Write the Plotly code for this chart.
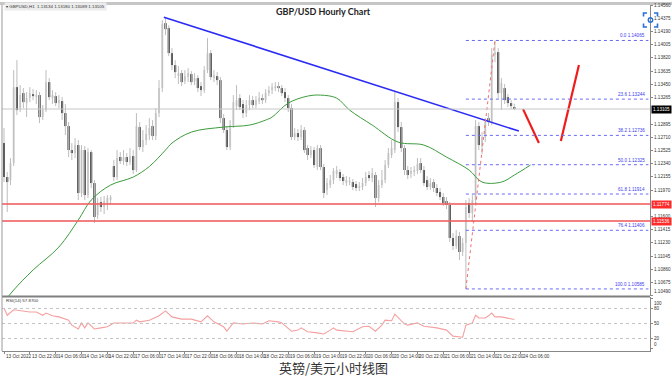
import plotly.graph_objects as go

# ---------------- data ----------------
time_labels = ["13 Oct 2022", "13 Oct 22:00", "14 Oct 06:00", "14 Oct 14:00", "14 Oct 22:00",
               "17 Oct 06:00", "17 Oct 14:00", "17 Oct 22:00", "18 Oct 06:00", "18 Oct 14:00",
               "18 Oct 22:00", "19 Oct 06:00", "19 Oct 14:00", "19 Oct 22:00", "20 Oct 06:00",
               "20 Oct 14:00", "20 Oct 22:00", "21 Oct 06:00", "21 Oct 14:00", "21 Oct 22:00",
               "24 Oct 06:00"]
time_label_bars = [0, 8, 16, 24, 32, 40, 48, 56, 64, 72, 80, 88, 96, 104, 112, 120, 128, 136, 144, 152, 160]

open_ = [1.12628, 1.12152, 1.12110, 1.12348, 1.13412, 1.13118, 1.13328, 1.13188, 1.13258, 1.13314,
         1.13272, 1.13300, 1.12992, 1.13090, 1.13482, 1.13258, 1.13286, 1.13188, 1.13216, 1.13048,
         1.12866, 1.12530, 1.12488, 1.12600, 1.11928, 1.12530, 1.11900, 1.12502, 1.12068, 1.11620,
         1.11802, 1.11732, 1.11788, 1.11830, 1.12306, 1.12152, 1.12432, 1.12376, 1.12432, 1.12362,
         1.12446, 1.12250, 1.12852, 1.12572, 1.12670, 1.12740, 1.12866, 1.12726, 1.13048, 1.13398,
         1.14308, 1.14238, 1.13888, 1.13720, 1.13566, 1.13608, 1.13496, 1.13552, 1.13594, 1.13496,
         1.13538, 1.13426, 1.13370, 1.13650, 1.13888, 1.13538, 1.13566, 1.13510, 1.12978, 1.12810,
         1.12572, 1.12880, 1.13146, 1.13258, 1.13174, 1.13048, 1.13160, 1.13230, 1.13160, 1.13216,
         1.13258, 1.13230, 1.13328, 1.13370, 1.13398, 1.13426, 1.13398, 1.13342, 1.13258, 1.13118,
         1.12712, 1.12768, 1.12712, 1.12810, 1.12558, 1.12460, 1.12530, 1.12292, 1.12558, 1.12292,
         1.11970, 1.12040, 1.12110, 1.12194, 1.12222, 1.12152, 1.12068, 1.12082, 1.12082, 1.12054,
         1.11998, 1.12012, 1.12068, 1.12180, 1.12138, 1.12180, 1.11858, 1.12040, 1.12110, 1.12320,
         1.12460, 1.12530, 1.13202, 1.12852, 1.12558, 1.12250, 1.12194, 1.12222, 1.12236, 1.12348,
         1.12250, 1.12110, 1.12012, 1.12082, 1.11998, 1.11942, 1.11872, 1.11816, 1.11760, 1.11298,
         1.11186, 1.11326, 1.11102, 1.11228, 1.11788, 1.11648, 1.11830, 1.12866, 1.12586, 1.12712,
         1.12978, 1.12922, 1.13860, 1.13902, 1.13328, 1.13398, 1.13272, 1.13188, 1.13134]
high = [1.12838, 1.12222, 1.12418, 1.13650, 1.13790, 1.13440, 1.13398, 1.13342, 1.13412, 1.13384,
        1.13370, 1.13342, 1.13160, 1.13650, 1.13538, 1.13370, 1.13342, 1.13300, 1.13272, 1.13174,
        1.12922, 1.12628, 1.12698, 1.12670, 1.12600, 1.12586, 1.12558, 1.12530, 1.12110, 1.11858,
        1.11872, 1.11886, 1.11900, 1.11900, 1.12390, 1.12530, 1.12502, 1.12530, 1.12488, 1.12558,
        1.12530, 1.13048, 1.12922, 1.12810, 1.12880, 1.12978, 1.12950, 1.13118, 1.13510, 1.14350,
        1.14378, 1.14280, 1.13958, 1.13790, 1.13706, 1.13650, 1.13650, 1.13678, 1.13636, 1.13608,
        1.13580, 1.13482, 1.13706, 1.14098, 1.13930, 1.13650, 1.13622, 1.13552, 1.13034, 1.12866,
        1.12950, 1.13300, 1.13440, 1.13314, 1.13230, 1.13230, 1.13300, 1.13286, 1.13286, 1.13342,
        1.13314, 1.13384, 1.13426, 1.13468, 1.13482, 1.13482, 1.13440, 1.13398, 1.13300, 1.13174,
        1.12838, 1.12824, 1.12880, 1.12852, 1.12600, 1.12586, 1.12572, 1.12600, 1.12600, 1.12334,
        1.12138, 1.12180, 1.12278, 1.12306, 1.12264, 1.12194, 1.12166, 1.12152, 1.12124, 1.12096,
        1.12082, 1.12138, 1.12222, 1.12236, 1.12278, 1.12222, 1.12110, 1.12250, 1.12390, 1.12558,
        1.12670, 1.13342, 1.13258, 1.12922, 1.12600, 1.12306, 1.12292, 1.12306, 1.12418, 1.12418,
        1.12306, 1.12166, 1.12138, 1.12124, 1.12054, 1.11998, 1.11928, 1.11872, 1.11802, 1.11368,
        1.11410, 1.11382, 1.11298, 1.11830, 1.11858, 1.11900, 1.12950, 1.12922, 1.12782, 1.12978,
        1.13048, 1.13958, 1.14065, 1.13958, 1.13538, 1.13454, 1.13314, 1.13230, 1.13180]
low = [1.12082, 1.11662, 1.12040, 1.12306, 1.13020, 1.13062, 1.13118, 1.12992, 1.13202, 1.13230,
       1.13174, 1.12908, 1.12950, 1.13062, 1.13230, 1.13174, 1.13146, 1.13118, 1.12950, 1.12740,
       1.12432, 1.12390, 1.12418, 1.11830, 1.11872, 1.11830, 1.11858, 1.11998, 1.11508, 1.11564,
       1.11662, 1.11634, 1.11690, 1.11774, 1.12096, 1.12110, 1.12334, 1.12320, 1.12306, 1.12320,
       1.12194, 1.12222, 1.12530, 1.12502, 1.12600, 1.12670, 1.12670, 1.12670, 1.12992, 1.13342,
       1.14140, 1.13846, 1.13650, 1.13538, 1.13454, 1.13426, 1.13454, 1.13482, 1.13440, 1.13440,
       1.13342, 1.13286, 1.13328, 1.13608, 1.13510, 1.13482, 1.13440, 1.12908, 1.12768, 1.12530,
       1.12530, 1.12838, 1.13090, 1.13090, 1.12978, 1.12992, 1.13090, 1.13118, 1.13118, 1.13174,
       1.13174, 1.13188, 1.13286, 1.13314, 1.13356, 1.13342, 1.13286, 1.13202, 1.13062, 1.12670,
       1.12670, 1.12656, 1.12670, 1.12488, 1.12390, 1.12418, 1.12278, 1.12250, 1.12250, 1.11858,
       1.11900, 1.11998, 1.12054, 1.12138, 1.12096, 1.12040, 1.12026, 1.12040, 1.11970, 1.11956,
       1.11956, 1.11970, 1.12026, 1.12096, 1.12082, 1.11732, 1.11802, 1.11998, 1.12068, 1.12278,
       1.12418, 1.12488, 1.12782, 1.12502, 1.12180, 1.12124, 1.12138, 1.12166, 1.12194, 1.12208,
       1.12026, 1.11970, 1.11970, 1.11942, 1.11886, 1.11830, 1.11746, 1.11704, 1.11242, 1.11130,
       1.11144, 1.10990, 1.11046, 1.10585, 1.11578, 1.11522, 1.11774, 1.12530, 1.12474, 1.12642,
       1.12866, 1.12880, 1.13762, 1.13258, 1.13090, 1.13174, 1.13132, 1.13104, 1.13089]
close = [1.12152, 1.12082, 1.12348, 1.13412, 1.13090, 1.13300, 1.13202, 1.13258, 1.13328, 1.13286,
         1.13300, 1.12992, 1.13090, 1.13482, 1.13272, 1.13300, 1.13188, 1.13230, 1.13048, 1.12866,
         1.12530, 1.12488, 1.12600, 1.11928, 1.12530, 1.11900, 1.12502, 1.12068, 1.11592, 1.11788,
         1.11732, 1.11816, 1.11858, 1.11872, 1.12152, 1.12418, 1.12376, 1.12432, 1.12362, 1.12446,
         1.12250, 1.12866, 1.12572, 1.12670, 1.12754, 1.12838, 1.12726, 1.13048, 1.13398, 1.14294,
         1.14224, 1.13888, 1.13720, 1.13622, 1.13608, 1.13482, 1.13566, 1.13608, 1.13482, 1.13538,
         1.13398, 1.13370, 1.13650, 1.13888, 1.13552, 1.13580, 1.13510, 1.12978, 1.12810, 1.12572,
         1.12880, 1.13202, 1.13230, 1.13132, 1.13048, 1.13160, 1.13230, 1.13160, 1.13230, 1.13258,
         1.13230, 1.13328, 1.13370, 1.13412, 1.13426, 1.13398, 1.13328, 1.13258, 1.13118, 1.12712,
         1.12768, 1.12712, 1.12810, 1.12530, 1.12460, 1.12530, 1.12320, 1.12558, 1.12292, 1.11928,
         1.12068, 1.12110, 1.12236, 1.12250, 1.12138, 1.12096, 1.12110, 1.12096, 1.12012, 1.11998,
         1.12026, 1.12068, 1.12152, 1.12138, 1.12208, 1.11858, 1.12040, 1.12110, 1.12320, 1.12488,
         1.12558, 1.13202, 1.12852, 1.12558, 1.12250, 1.12180, 1.12236, 1.12250, 1.12334, 1.12250,
         1.12068, 1.12012, 1.12068, 1.11998, 1.11928, 1.11872, 1.11788, 1.11760, 1.11298, 1.11186,
         1.11326, 1.11102, 1.11228, 1.11732, 1.11648, 1.11830, 1.12866, 1.12600, 1.12712, 1.12922,
         1.12922, 1.13860, 1.13902, 1.13328, 1.13468, 1.13230, 1.13188, 1.13146, 1.13105]

ma_bars = [0, 3, 9, 17, 23, 27, 33, 40, 45, 50, 52, 58, 68, 76, 81, 83, 88, 94, 98, 103,
           107, 114, 122, 130, 137, 144, 148, 154, 158, 163]
ma_values = [1.10400, 1.10570, 1.10850, 1.11172, 1.11550, 1.11830, 1.12040, 1.12152, 1.12300, 1.12530,
             1.12628, 1.12782, 1.12852, 1.12880, 1.12950, 1.12992, 1.13188, 1.13286, 1.13300, 1.13258,
             1.13090, 1.12880, 1.12642, 1.12600, 1.12432, 1.12250, 1.12082, 1.12082, 1.12180, 1.12320]

rsi_bars = [0, 1, 3, 5, 8, 10, 12, 13, 15, 17, 20, 21, 23, 24, 25, 26, 28, 30, 32, 34,
            37, 40, 41, 42, 45, 48, 50, 52, 55, 58, 61, 63, 65, 68, 69, 71, 74, 77, 80, 82,
            85, 86, 89, 91, 92, 94, 97, 99, 101, 102, 103, 106, 108, 111, 113, 115, 117, 118, 120, 121,
            124, 125, 128, 130, 132, 134, 137, 139, 142, 143, 145, 146, 147, 149, 150, 151, 152, 154, 158]
rsi_values = [80.8, 66.5, 77.5, 75.3, 73.1, 73.1, 66.5, 70.9, 65.4, 63.2,
              56.6, 46.7, 39.0, 51.1, 41.2, 51.1, 39.0, 41.2, 43.4, 51.1,
              51.1, 51.1, 56.6, 53.3, 56.6, 65.4, 75.3, 63.2, 58.8, 58.8,
              53.3, 65.4, 53.3, 43.4, 34.6, 51.1, 48.9, 51.1, 48.9, 55.5,
              53.3, 51.1, 34.6, 36.8, 41.2, 33.5, 31.3, 29.1, 36.8, 41.2,
              36.8, 34.6, 33.5, 43.4, 44.5, 34.6, 46.7, 56.6, 55.5, 68.7,
              48.9, 46.7, 51.1, 44.5, 43.4, 41.2, 36.8, 24.7, 22.5, 46.7,
              51.1, 66.5, 61.0, 61.0, 65.4, 70.9, 63.2, 63.2, 57.87]
rsi_levels = [80, 50, 20]
rsi_ticks = [100, 80, 50, 20, 0]

trend_bars = [49.5, 159.4]
trend_prices = [1.14392, 1.12796]

arrow1_bars = [160.7, 165.6]
arrow1_prices = [1.13104, 1.12628]
arrow2_bars = [172.4, 178.0]
arrow2_prices = [1.12656, 1.13720]

support_levels = [1.11774, 1.11536]
current_price = 1.13105

fib_low, fib_high = 1.10585, 1.14065
fib_low_bar, fib_high_bar = 143, 152
fib_ratios = [0.0, 23.6, 38.2, 50.0, 61.8, 76.4, 100.0]

price_ticks = [1.14560, 1.14375, 1.14190, 1.14005, 1.13820, 1.13635, 1.13450, 1.13265,
               1.12895, 1.12710, 1.12525, 1.12340, 1.12155, 1.11970, 1.11600, 1.11415,
               1.11230, 1.11045, 1.10860, 1.10675, 1.10490]

# ---------------- geometry ----------------
W, H = 672, 378
ML, MR, MT, MB = 2, 22, 5, 27
PW, PH = W - ML - MR, H - MT - MB


def pyp(pix):  # pixel row -> paper y
    return (H - MB - pix) / PH


def pxp(pix):  # pixel col -> paper x
    return (pix - ML) / PW


X_RANGE = [-0.62, 200]
Y_RANGE = [1.10486, 1.14562]
TXT = "Liberation Sans"

n = len(open_)
idx = list(range(n))

fig = go.Figure()

# wicks
wx, wy = [], []
for i in idx:
    wx += [i, i, None]
    wy += [low[i], high[i], None]
fig.add_trace(go.Scatter(x=wx, y=wy, mode="lines", line=dict(color="#bdbdbd", width=1),
                         hoverinfo="skip", xaxis="x", yaxis="y"))

# bodies
base = [min(o, c) for o, c in zip(open_, close)]
height = [max(abs(c - o), 0.00008) for o, c in zip(open_, close)]
colors = ["#d4d4d4" if c >= o else "#000000" for o, c in zip(open_, close)]
fig.add_trace(go.Bar(x=idx, y=height, base=base, width=0.62, marker=dict(color=colors, line=dict(width=0)),
                     hoverinfo="skip", xaxis="x", yaxis="y"))

# moving average
fig.add_trace(go.Scatter(x=ma_bars, y=ma_values, mode="lines", line=dict(color="#3c9c3c", width=1, shape="spline"),
                         hoverinfo="skip", xaxis="x", yaxis="y"))

# trend line
fig.add_trace(go.Scatter(x=trend_bars, y=trend_prices, mode="lines", line=dict(color="#2b2bf5", width=1.6),
                         hoverinfo="skip", xaxis="x", yaxis="y"))

# projection arrows
for bx, by in ((arrow1_bars, arrow1_prices), (arrow2_bars, arrow2_prices)):
    fig.add_trace(go.Scatter(x=bx, y=by, mode="lines", line=dict(color="#f01c1c", width=2.2),
                             hoverinfo="skip", xaxis="x", yaxis="y"))

# fib diagonal
fig.add_trace(go.Scatter(x=[fib_low_bar, fib_high_bar], y=[fib_low, fib_high], mode="lines",
                         line=dict(color="#f07070", width=1, dash="dot"), hoverinfo="skip", xaxis="x", yaxis="y"))

# RSI
fig.add_trace(go.Scatter(x=rsi_bars, y=rsi_values, mode="lines", line=dict(color="#f5a0a0", width=1.1),
                         hoverinfo="skip", xaxis="x2", yaxis="y2"))

shapes = []
annotations = []

# fib levels
for r in fib_ratios:
    p = fib_high - (fib_high - fib_low) * r / 100.0
    shapes.append(dict(type="line", xref="x", yref="y", x0=fib_low_bar, x1=X_RANGE[1] - 0.5, y0=p, y1=p,
                       line=dict(color="#6a6af5", width=1, dash="dot")))
    annotations.append(dict(xref="x", yref="y", x=X_RANGE[1] - 0.8, y=p, xanchor="right", yanchor="bottom",
                            text=f"{r:.1f} {p:.5f}", showarrow=False,
                            font=dict(size=4.6, color="#3c3cf0", family=TXT)))

# current price line
shapes.append(dict(type="line", xref="paper", yref="y", x0=0, x1=1, y0=current_price, y1=current_price,
                   line=dict(color="#c8c8c8", width=1)))
# support lines
for s in support_levels:
    shapes.append(dict(type="line", xref="paper", yref="y", x0=0, x1=1, y0=s, y1=s,
                       line=dict(color="rgba(240,96,96,0.8)", width=2)))

# RSI levels
for lv in rsi_levels:
    shapes.append(dict(type="line", xref="paper", yref="y2", x0=0, x1=1, y0=lv, y1=lv,
                       line=dict(color="#c4c4c4", width=1, dash="dot")))

# frame
shapes.append(dict(type="rect", xref="paper", yref="paper", x0=pxp(0), x1=pxp(672), y0=pyp(5), y1=pyp(2),
                   fillcolor="#c6c6c6", line=dict(width=0), layer="above"))
shapes.append(dict(type="line", xref="paper", yref="paper", x0=0, x1=1, y0=pyp(296.5), y1=pyp(296.5),
                   line=dict(color="#808080", width=2)))
shapes.append(dict(type="line", xref="paper", yref="paper", x0=0, x1=0, y0=0, y1=pyp(5),
                   line=dict(color="#9a9a9a", width=1)))

# screenshot-tool icon in the top right corner
cx, cy, hs, arm = 650.5, 20, 7, 3.5
icon_path = ""
for sx in (-1, 1):
    for sy in (-1, 1):
        x_c, y_c = cx + sx * hs, cy + sy * hs
        icon_path += (f"M{pxp(x_c - sx * arm)},{pyp(y_c)} L{pxp(x_c)},{pyp(y_c)} "
                      f"L{pxp(x_c)},{pyp(y_c - sy * arm)} ")
shapes.append(dict(type="path", xref="paper", yref="paper", path=icon_path,
                   line=dict(color="#2a6fd6", width=1.6)))
shapes.append(dict(type="circle", xref="paper", yref="paper", x0=pxp(cx - 2.2), x1=pxp(cx + 2.2),
                   y0=pyp(cy + 2.2), y1=pyp(cy - 2.2), line=dict(color="#2a6fd6", width=1.4)))

# price axis labels (left aligned next to the axis, like the terminal)
for k, v in enumerate(price_ticks):
    annotations.append(dict(xref="paper", yref="y", x=1, y=v, xanchor="left",
                            yanchor="bottom" if k == len(price_ticks) - 1 else "middle", xshift=2,
                            text=f"{v:.5f}", showarrow=False,
                            font=dict(size=4.6, color="#333333", family=TXT)))
for v in rsi_ticks:
    annotations.append(dict(xref="paper", yref="y2", x=1, y=v, xanchor="left",
                            yanchor="top" if v == 100 else ("bottom" if v == 0 else "middle"), xshift=2,
                            text=str(v), showarrow=False,
                            font=dict(size=4.6, color="#333333", family=TXT)))

# price boxes
for val, bg in ((current_price, "#000000"), (support_levels[0], "#ff2a2a"), (support_levels[1], "#ff2a2a")):
    annotations.append(dict(xref="paper", yref="y", x=1, y=val, xanchor="left", yanchor="middle", xshift=1,
                            text=f"{val:.5f}", showarrow=False, bgcolor=bg, borderpad=1,
                            font=dict(size=4.6, color="#ffffff", family=TXT)))

# time labels
for b, t in zip(time_label_bars, time_labels):
    annotations.append(dict(xref="x2", yref="paper", x=b, y=0, xanchor="left", yanchor="top", yshift=-1,
                            text=t, showarrow=False, font=dict(size=4.6, color="#333333", family=TXT)))

# title and captions
annotations.append(dict(xref="paper", yref="paper", x=pxp(323), y=pyp(12), xanchor="center", yanchor="middle",
                        text="<b>GBP/USD Hourly Chart</b>", showarrow=False,
                        font=dict(size=9, color="#222222", family="Lato")))
annotations.append(dict(xref="paper", yref="paper", x=pxp(4), y=pyp(6.5), xanchor="left", yanchor="middle",
                        text=f"▾ GBPUSD,H1  {open_[-1]:.5f} {high[-1]:.5f} {low[-1]:.5f} {close[-1]:.5f}",
                        showarrow=False, bgcolor="#ececec",
                        font=dict(size=4.4, color="#333333", family=TXT)))
annotations.append(dict(xref="paper", yref="paper", x=pxp(4), y=pyp(300.5), xanchor="left", yanchor="middle",
                        text=f"RSI(14) {rsi_values[-1]:.4f}", showarrow=False,
                        font=dict(size=4.4, color="#333333", family=TXT)))
annotations.append(dict(xref="paper", yref="paper", x=pxp(333), y=pyp(367), xanchor="center", yanchor="middle",
                        text="英镑/美元小时线图", showarrow=False,
                        font=dict(size=13, color="#333333", family="Noto Sans CJK SC")))

fig.update_layout(
    width=W, height=H,
    margin=dict(l=ML, r=MR, t=MT, b=MB, pad=0),
    paper_bgcolor="white", plot_bgcolor="white",
    showlegend=False, hovermode=False,
    xaxis=dict(domain=[0, 1], range=X_RANGE, anchor="y", visible=False, fixedrange=True),
    yaxis=dict(domain=[pyp(296), 1], range=Y_RANGE, side="right", anchor="x",
               tickvals=price_ticks, showticklabels=False,
               ticks="outside", ticklen=2, tickcolor="#888888", showgrid=False, zeroline=False,
               showline=True, linecolor="#888888", linewidth=1),
    xaxis2=dict(domain=[0, 1], range=X_RANGE, anchor="y2", showgrid=False, zeroline=False,
                showline=True, linecolor="#888888", linewidth=1,
                tickvals=time_label_bars, showticklabels=False, ticks="outside", ticklen=2, tickcolor="#888888"),
    yaxis2=dict(domain=[0, pyp(297)], range=[-5, 103], side="right", anchor="x2",
                tickvals=rsi_ticks, showticklabels=False,
                ticks="outside", ticklen=2, tickcolor="#888888", showgrid=False, zeroline=False,
                showline=True, linecolor="#888888", linewidth=1),
    shapes=shapes, annotations=annotations,
)

fig.write_html("out.html", config={"displayModeBar": False, "staticPlot": True},
               post_script="document.body.style.margin='0';document.body.style.overflow='hidden';")
